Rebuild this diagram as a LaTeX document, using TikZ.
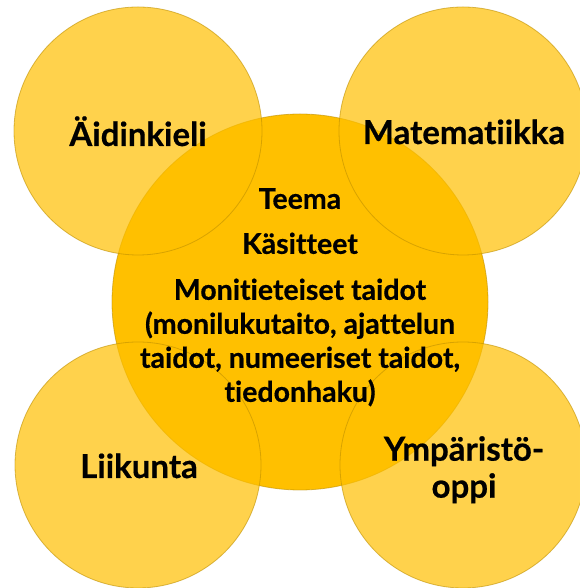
\documentclass[tikz,border=0pt]{standalone}
\usepackage{fontspec}
\setmainfont{Lato}[Ligatures=NoCommon, BoldFeatures={FakeBold=0.5}]
\definecolor{gold}{HTML}{FFC000}
\definecolor{goldline}{HTML}{BF9000}
\begin{document}
\begin{tikzpicture}[x=1pt,y=1pt,
  bigcircle/.style={circle, fill=gold, draw=goldline, draw opacity=0.6, line width=0.8pt},
  smallcircle/.style={circle, fill=gold, fill opacity=0.7, draw=goldline, draw opacity=0.6, line width=0.8pt},
  lbl/.style={font=\fontsize{33}{37}\selectfont\bfseries, text=black, inner sep=0pt, align=center},
  ctr/.style={font=\fontsize{28.5}{34}\selectfont\bfseries, text=black, inner sep=0pt, align=center}]
\useasboundingbox (0,0) rectangle (579,588);
\fill[white] (0,0) rectangle (579,588);
\path[bigcircle] (300,286) circle[radius=188];
\path[smallcircle] (138,457) circle[radius=124];
\path[smallcircle] (463,457) circle[radius=124];
\path[smallcircle] (138,123) circle[radius=123];
\path[smallcircle] (463,123) circle[radius=123];
\node[lbl, anchor=base] (aid) at (138,442) {Äidinkieli};
\node[lbl, anchor=base] (mat) at (464,444) {Matematiikka};
\node[lbl, anchor=base] (lii) at (139,110) {Liikunta};
\node[lbl, anchor=north] (ymp) at (464,152) {Ympäristö-\\oppi};
\node[ctr, anchor=north] (teema) at (300,400) {Teema\\[11pt]Käsitteet\\[12pt]Monitieteiset taidot\\(monilukutaito, ajattelun\\taidot, numeeriset taidot,\\tiedonhaku)};
\end{tikzpicture}
\end{document}
